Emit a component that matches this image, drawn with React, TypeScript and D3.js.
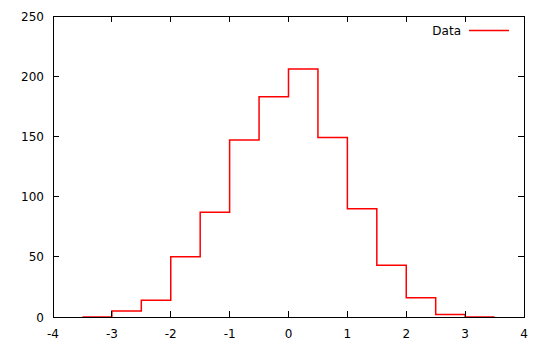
import React from "react";
import * as d3 from "d3";

const binStarts = [-3.5, -3, -2.5, -2, -1.5, -1, -0.5, 0, 0.5, 1, 1.5, 2, 2.5, 3];
const counts = [0, 5, 14, 50, 87, 147, 183, 206, 149, 90, 43, 16, 2, 0];
const binWidth = 0.5;
const xTicks = [-4, -3, -2, -1, 0, 1, 2, 3, 4];
const yTicks = [0, 50, 100, 150, 200, 250];
const seriesName = "Data";

const W = 550, H = 350;
const M = { left: 53, right: 26, top: 16, bottom: 33 };

export default function App() {
  const x = d3.scaleLinear().domain([-4, 4]).range([M.left, W - M.right]);
  const y = d3.scaleLinear().domain([0, 250]).range([H - M.bottom, M.top]);
  const pts: [number, number][] = binStarts.map((b, i) => [b, counts[i]]);
  pts.push([binStarts[binStarts.length - 1] + binWidth, counts[counts.length - 1]]);
  const line = d3.line<[number, number]>().x(d => x(d[0])).y(d => y(d[1])).curve(d3.curveStepAfter);
  const x0 = x(-4), x1 = x(4), y0 = y(0), y1 = y(250);
  const tl = 6;
  const font = "'DejaVu Sans', sans-serif";
  return (
    <svg width={W} height={H} style={{ position: "absolute", left: 0, top: 0, background: "#fff" }}>
      <rect x={0} y={0} width={W} height={H} fill="#fff" />
      <path d={line(pts) || ""} fill="none" stroke="#ff0000" strokeWidth={1.5} />
      <g stroke="#000" strokeWidth={1} shapeRendering="crispEdges">
        {xTicks.map(t => (
          <g key={"xt" + t}>
            <line x1={x(t)} x2={x(t)} y1={y0} y2={y0 - tl} />
            <line x1={x(t)} x2={x(t)} y1={y1} y2={y1 + tl} />
          </g>
        ))}
        {yTicks.map(t => (
          <g key={"yt" + t}>
            <line x1={x0} x2={x0 + tl} y1={y(t)} y2={y(t)} />
            <line x1={x1} x2={x1 - tl} y1={y(t)} y2={y(t)} />
          </g>
        ))}
        <rect x={x0} y={y1} width={x1 - x0} height={y0 - y1} fill="none" />
      </g>
      <g fontFamily={font} fontSize={12} fill="#000">
        {xTicks.map(t => (
          <text key={"xl" + t} x={x(t)} y={y0 + 21} textAnchor="middle">{t}</text>
        ))}
        {yTicks.map(t => (
          <text key={"yl" + t} x={x0 - 9} y={y(t) + 4.5} textAnchor="end">{t}</text>
        ))}
        <text x={461} y={35} textAnchor="end">{seriesName}</text>
      </g>
      <line x1={469} x2={509} y1={30.5} y2={30.5} stroke="#ff0000" strokeWidth={1.5} />
    </svg>
  );
}
